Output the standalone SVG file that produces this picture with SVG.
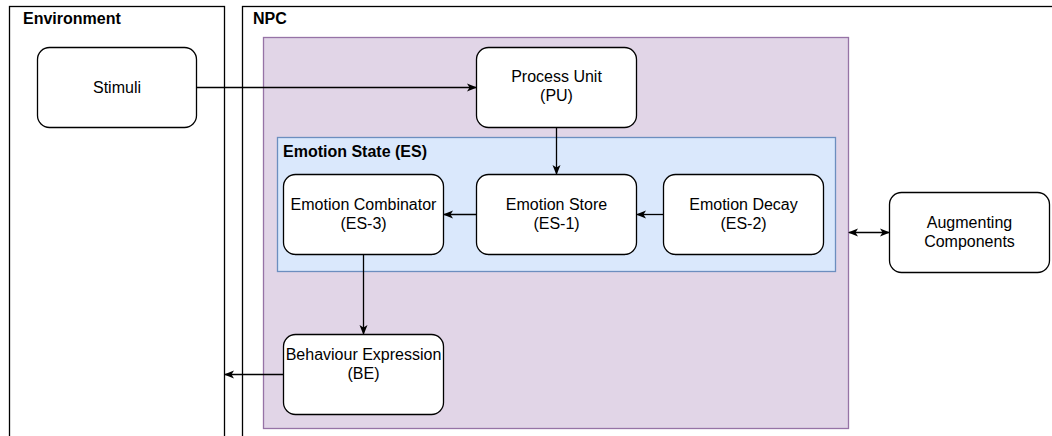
<svg xmlns="http://www.w3.org/2000/svg" width="1052" height="436" viewBox="0 0 1052 436">
  <defs>
    <marker id="arrow" viewBox="0 0 10 10" refX="9" refY="5" markerWidth="10" markerHeight="10" markerUnits="userSpaceOnUse" orient="auto-start-reverse">
      <path d="M0,1 L10,5 L0,9 L2.5,5 Z" fill="#000"/>
    </marker>
    <style>
      .frame { fill: #ffffff; stroke: #000000; stroke-width: 1.3; }
      .npc-core { fill: #e1d5e7; stroke: #9673a6; stroke-width: 1.3; }
      .es { fill: #dae8fc; stroke: #6c8ebf; stroke-width: 1.3; }
      .node rect { fill: #ffffff; stroke: #000000; stroke-width: 1.3; }
      text { font-family: "Liberation Sans", Arial, Helvetica, sans-serif; font-size: 16px; fill: #000000; }
      .label { text-anchor: middle; }
      .title { font-weight: bold; }
      .edge { fill: none; stroke: #000000; stroke-width: 1.3; }
    </style>
  </defs>

  <rect width="1052" height="436" fill="#ffffff"/>

  <!-- Environment container -->
  <g id="environment">
    <rect class="frame" x="9.5" y="6.5" width="215" height="450"/>
    <text class="title" x="23" y="24">Environment</text>
  </g>

  <!-- NPC container -->
  <g id="npc">
    <rect class="frame" x="242.5" y="6.5" width="830" height="450"/>
    <text class="title" x="253" y="24">NPC</text>
    <rect class="npc-core" x="263.5" y="37.5" width="585" height="391"/>
  </g>

  <!-- Emotion State group -->
  <g id="emotion-state">
    <rect class="es" x="277.5" y="137.5" width="558" height="134"/>
    <text class="title" x="283" y="157">Emotion State (ES)</text>
  </g>

  <g id="stimuli" class="node">
    <rect x="37.5" y="47.5" width="159" height="80" rx="12"/>
    <text class="label" x="117" y="93">Stimuli</text>
  </g>

  <g id="process-unit" class="node">
    <rect x="476.5" y="47.5" width="160" height="80" rx="12"/>
    <text class="label" x="556.5" y="82">Process Unit</text>
    <text class="label" x="556.5" y="101">(PU)</text>
  </g>

  <g id="emotion-combinator" class="node">
    <rect x="283.5" y="174.5" width="160" height="80" rx="12"/>
    <text class="label" x="363.5" y="209.5">Emotion Combinator</text>
    <text class="label" x="363.5" y="228.5">(ES-3)</text>
  </g>

  <g id="emotion-store" class="node">
    <rect x="476.5" y="174.5" width="160" height="80" rx="12"/>
    <text class="label" x="556.5" y="209.5">Emotion Store</text>
    <text class="label" x="556.5" y="228.5">(ES-1)</text>
  </g>

  <g id="emotion-decay" class="node">
    <rect x="663.5" y="174.5" width="160" height="80" rx="12"/>
    <text class="label" x="743.5" y="209.5">Emotion Decay</text>
    <text class="label" x="743.5" y="228.5">(ES-2)</text>
  </g>

  <g id="augmenting-components" class="node">
    <rect x="889.5" y="192.5" width="160" height="80" rx="12"/>
    <text class="label" x="969.5" y="228">Augmenting</text>
    <text class="label" x="969.5" y="247">Components</text>
  </g>

  <g id="behaviour-expression" class="node">
    <rect x="283.5" y="334.5" width="160" height="80" rx="12"/>
    <text class="label" x="363.5" y="360">Behaviour Expression</text>
    <text class="label" x="363.5" y="379">(BE)</text>
  </g>

  <!-- Connectors -->
  <g id="connectors">
    <path class="edge" d="M196.5,87.5 L476,87.5" marker-end="url(#arrow)"/>
    <path class="edge" d="M556.5,127.5 L556.5,174" marker-end="url(#arrow)"/>
    <path class="edge" d="M476.5,214.5 L444,214.5" marker-end="url(#arrow)"/>
    <path class="edge" d="M663.5,214.5 L637,214.5" marker-end="url(#arrow)"/>
    <path class="edge" d="M363.5,254.5 L363.5,334" marker-end="url(#arrow)"/>
    <path class="edge" d="M283.5,374.5 L225,374.5" marker-end="url(#arrow)"/>
    <path class="edge" d="M849,232.5 L889,232.5" marker-start="url(#arrow)" marker-end="url(#arrow)"/>
  </g>
</svg>
